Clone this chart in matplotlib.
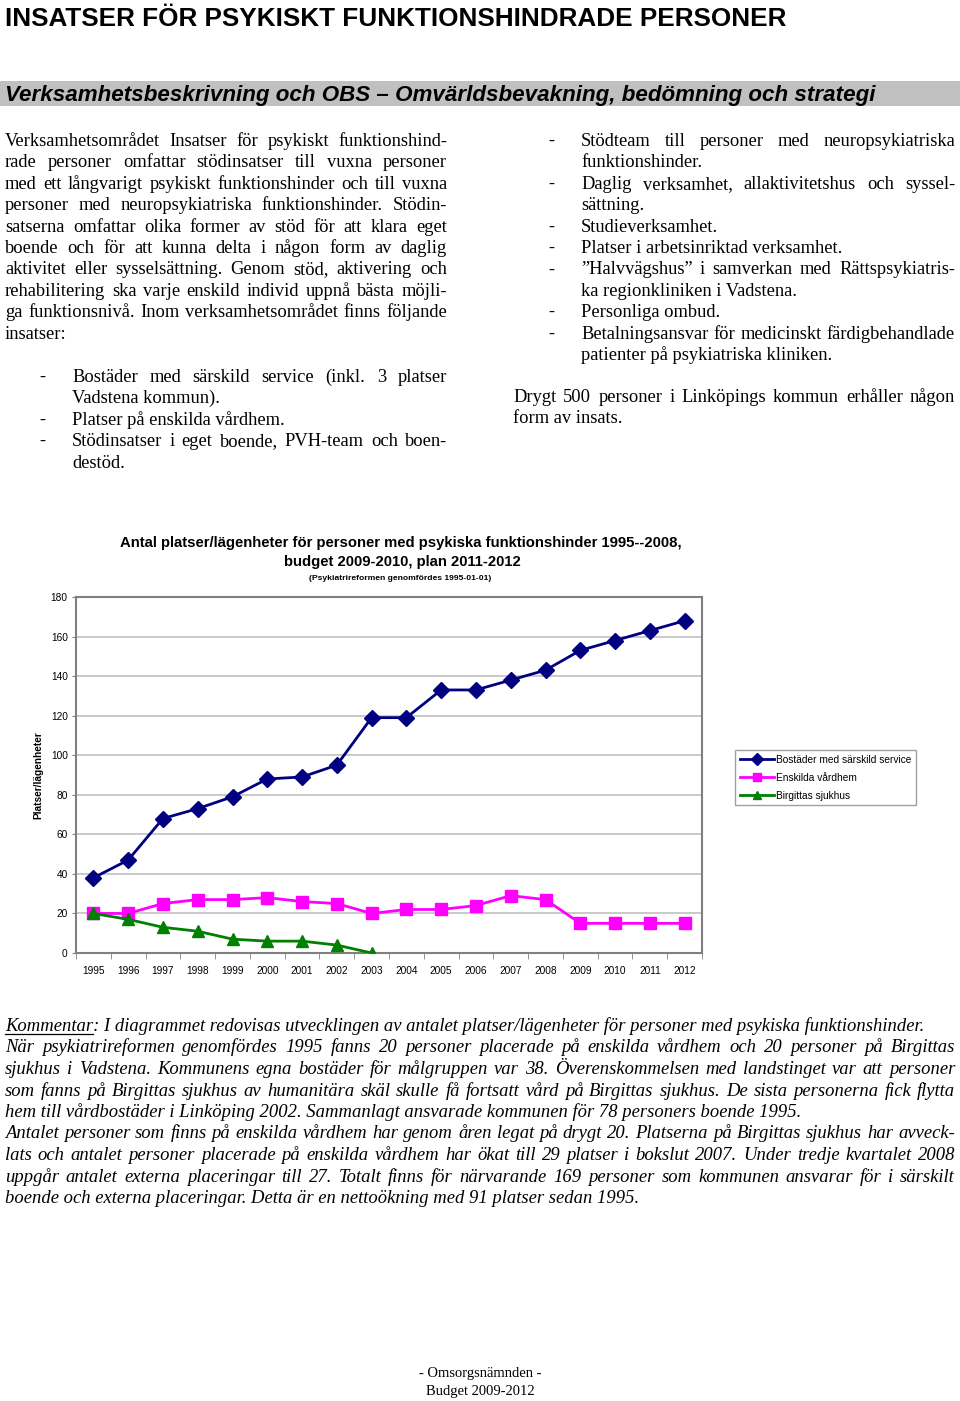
import matplotlib
matplotlib.use("Agg")
import matplotlib.pyplot as plt
from matplotlib.lines import Line2D
import numpy as np

# ---------------- data ----------------
years = ["1995", "1996", "1997", "1998", "1999", "2000", "2001", "2002", "2003",
         "2004", "2005", "2006", "2007", "2008", "2009", "2010", "2011", "2012"]
bostader = [38, 47, 68, 73, 79, 88, 89, 95, 119, 119, 133, 133, 138, 143, 153, 158, 163, 168]
enskilda = [20, 20, 25, 27, 27, 28, 26, 25, 20, 22, 22, 24, 29, 27, 15, 15, 15, 15]
birgittas = [20, 17, 13, 11, 7, 6, 6, 4, 0]
series_names = ["Bostäder med särskild service", "Enskilda vårdhem", "Birgittas sjukhus"]
yticks = [0, 20, 40, 60, 80, 100, 120, 140, 160, 180]

page_title = "INSATSER FÖR PSYKISKT FUNKTIONSHINDRADE PERSONER"
section_title = "Verksamhetsbeskrivning och OBS – Omvärldsbevakning, bedömning och strategi"
chart_title1 = "Antal platser/lägenheter för personer med psykiska funktionshinder 1995--2008,"
chart_title2 = "budget 2009-2010, plan 2011-2012"
chart_sub = "(Psykiatrireformen genomfördes 1995-01-01)"
ylabel = "Platser/lägenheter"

left_par = [
    ("Verksamhetsområdet Insatser för psykiskt funktionshind-", True),
    ("rade personer omfattar stödinsatser till vuxna personer", True),
    ("med ett långvarigt psykiskt funktionshinder och till vuxna", True),
    ("personer med neuropsykiatriska funktionshinder. Stödin-", True),
    ("satserna omfattar olika former av stöd för att klara eget", True),
    ("boende och för att kunna delta i någon form av daglig", True),
    ("aktivitet eller sysselsättning. Genom stöd, aktivering och", True),
    ("rehabilitering ska varje enskild individ uppnå bästa möjli-", True),
    ("ga funktionsnivå. Inom verksamhetsområdet finns följande", True),
    ("insatser:", False),
]
left_bullets = [
    ("Bostäder med särskild service (inkl. 3 platser", True, True),
    ("Vadstena kommun).", False, False),
    ("Platser på enskilda vårdhem.", False, True),
    ("Stödinsatser i eget boende, PVH-team och boen-", True, True),
    ("destöd.", False, False),
]
right_bullets = [
    ("Stödteam till personer med neuropsykiatriska", True, True),
    ("funktionshinder.", False, False),
    ("Daglig verksamhet, allaktivitetshus och syssel-", True, True),
    ("sättning.", False, False),
    ("Studieverksamhet.", False, True),
    ("Platser i arbetsinriktad verksamhet.", False, True),
    ("\u201dHalvvägshus\u201d i samverkan med Rättspsykiatris-", True, True),
    ("ka regionkliniken i Vadstena.", False, False),
    ("Personliga ombud.", False, True),
    ("Betalningsansvar för medicinskt färdigbehandlade", True, True),
    ("patienter på psykiatriska kliniken.", False, False),
]
right_par = [
    ("Drygt 500 personer i Linköpings kommun erhåller någon", True),
    ("form av insats.", False),
]
comment = [
    ("Kommentar: I diagrammet redovisas utvecklingen av antalet platser/lägenheter för personer med psykiska funktionshinder.", False),
    ("När psykiatrireformen genomfördes 1995 fanns 20 personer placerade på enskilda vårdhem och 20 personer på Birgittas", True),
    ("sjukhus i Vadstena. Kommunens egna bostäder för målgruppen var 38. Överenskommelsen med landstinget var att personer", True),
    ("som fanns på Birgittas sjukhus av humanitära skäl skulle få fortsatt vård på Birgittas sjukhus. De sista personerna fick flytta", True),
    ("hem till vårdbostäder i Linköping 2002. Sammanlagt ansvarade kommunen för 78 personers boende 1995.", False),
    ("Antalet personer som finns på enskilda vårdhem har genom åren legat på drygt 20. Platserna på Birgittas sjukhus har avveck-", True),
    ("lats och antalet personer placerade på enskilda vårdhem har ökat till 29 platser i bokslut 2007. Under tredje kvartalet 2008", True),
    ("uppgår antalet externa placeringar till 27. Totalt finns för närvarande 169 personer som kommunen ansvarar för i särskilt", True),
    ("boende och externa placeringar. Detta är en nettoökning med 91 platser sedan 1995.", False),
]
footer = ["- Omsorgsnämnden -", "Budget 2009-2012"]

# ---------------- page setup ----------------
W, H = 960, 1401
fig = plt.figure(figsize=(W / 100, H / 100), dpi=100)
fig.patch.set_facecolor("white")
renderer = fig.canvas.get_renderer()

SERIF = "Liberation Serif"
SANS = "Liberation Sans"


def fx(px):
    return px / W


def fy(py):
    return 1 - py / H


def measure(s, **kw):
    t = fig.text(0, 0, s, **kw)
    w = t.get_window_extent(renderer).width
    t.remove()
    return w


def fit_size(s, width, **kw):
    w = measure(s, fontsize=10, **kw)
    return 10 * width / w


def draw_line(x0, x1, yb, s, justify, **kw):
    if not justify:
        fig.text(fx(x0), fy(yb), s, ha="left", va="baseline", **kw)
        return
    words = s.split(" ")
    widths = [measure(w, **kw) for w in words]
    gap = (x1 - x0 - sum(widths)) / max(len(words) - 1, 1)
    x = x0
    for w, wd in zip(words, widths):
        fig.text(fx(x), fy(yb), w, ha="left", va="baseline", **kw)
        x += wd + gap


# page title
ts = fit_size(page_title, 780, family=SANS, fontweight="bold")
fig.text(fx(5), fy(26), page_title, family=SANS, fontweight="bold", fontsize=ts,
         ha="left", va="baseline")

# grey section bar
fig.patches.append(plt.Rectangle((0, fy(106)), 1.0, (106 - 81) / H,
                                 transform=fig.transFigure, facecolor="#c0c0c0",
                                 edgecolor="none", zorder=0))
ss = fit_size(section_title, 872, family=SANS, fontweight="bold", fontstyle="italic")
fig.text(fx(5), fy(101), section_title, family=SANS, fontweight="bold",
         fontstyle="italic", fontsize=ss, ha="left", va="baseline")

# body text
bs = fit_size("Betalningsansvar för medicinskt färdigbehandlade", 374, family=SERIF)
body = dict(family=SERIF, fontsize=bs, color="black")
lh = 21.4
for i, (s, j) in enumerate(left_par):
    draw_line(5, 447, 146 + i * lh, s, j, **body)
for i, (s, j, dash) in enumerate(left_bullets):
    yb = 382 + i * lh
    if dash:
        fig.text(fx(39), fy(yb), "-", ha="left", va="baseline", **body)
    draw_line(72, 447, yb, s, j, **body)
for i, (s, j, dash) in enumerate(right_bullets):
    yb = 146 + i * lh
    if dash:
        fig.text(fx(548), fy(yb), "-", ha="left", va="baseline", **body)
    draw_line(581, 955, yb, s, j, **body)
for i, (s, j) in enumerate(right_par):
    draw_line(513, 955, 402 + i * lh, s, j, **body)

# comment (italic)
cs = min(fit_size(comment[0][0], 920, family=SERIF, fontstyle="italic"),
         fit_size(comment[3][0], 945, family=SERIF, fontstyle="italic"))
ck = dict(family=SERIF, fontstyle="italic", fontsize=cs, color="black")
for i, (s, j) in enumerate(comment):
    yb = 1031 + i * 21.5
    draw_line(5, 955, yb, s, j, **ck)
    if i == 0:
        uw = measure("Kommentar", **ck)
        fig.add_artist(Line2D([fx(5), fx(5 + uw)], [fy(yb + 2.5), fy(yb + 2.5)],
                              transform=fig.transFigure, color="black", lw=0.9))

# footer
fs = fit_size(footer[0], 123, family=SERIF)
fig.text(fx(480), fy(1377), footer[0], family=SERIF, fontsize=fs, ha="center", va="baseline")
fig.text(fx(480), fy(1395), footer[1], family=SERIF, fontsize=fs, ha="center", va="baseline")

# ---------------- chart ----------------
ax = fig.add_axes([fx(76), fy(953), fx(702) - fx(76), (953 - 597) / H])
x = np.arange(len(years))
ax.plot(x, bostader, color="#000080", lw=2, marker="D", markersize=8,
        markerfacecolor="#000080", markeredgecolor="#000080", label=series_names[0], zorder=3)
ax.plot(x, enskilda, color="#ff00ff", lw=2, marker="s", markersize=8,
        markerfacecolor="#ff00ff", markeredgecolor="#ff00ff", label=series_names[1], zorder=3)
ax.plot(x[:len(birgittas)], birgittas, color="#008000", lw=2, marker="^", markersize=8,
        markerfacecolor="#008000", markeredgecolor="#008000", label=series_names[2], zorder=3)

ax.set_xlim(-0.5, len(years) - 0.5)
ax.set_ylim(0, 180)
ax.set_xticks(x)
ax.set_xticklabels(years, family=SANS, fontsize=7.3)
ax.set_yticks(yticks)
ax.set_yticklabels([str(v) for v in yticks], family=SANS, fontsize=7.3)
ax.set_xticks(np.arange(-0.5, len(years), 1), minor=True)
ax.tick_params(axis="x", which="major", length=0, pad=9)
ax.tick_params(axis="x", which="minor", length=4, color="#808080", direction="out")
ax.tick_params(axis="y", which="major", length=3, color="#808080", pad=3)
ax.grid(axis="y", color="#c0c0c0", lw=1.2, zorder=0)
ax.set_axisbelow(True)
for sp in ax.spines.values():
    sp.set_color("#808080")
    sp.set_linewidth(1.5)
ax.set_ylabel(ylabel, family=SANS, fontweight="bold", fontsize=7.3, labelpad=5)

cts = fit_size(chart_title1, 566, family=SANS, fontweight="bold")
fig.text(fx(401), fy(547), chart_title1, family=SANS, fontweight="bold", fontsize=cts,
         ha="center", va="baseline")
fig.text(fx(402), fy(566), chart_title2, family=SANS, fontweight="bold", fontsize=cts,
         ha="center", va="baseline")
sts = fit_size(chart_sub, 180, family=SANS, fontweight="bold")
fig.text(fx(400), fy(580), chart_sub, family=SANS, fontweight="bold", fontsize=sts,
         ha="center", va="baseline")

leg = ax.legend(loc="upper left", bbox_to_anchor=(fx(735), fy(750)),
                bbox_transform=fig.transFigure, prop=dict(family=SANS, size=7.3),
                frameon=True, fancybox=False, edgecolor="#a0a0a0", framealpha=1,
                handlelength=3.4, handletextpad=0.2, labelspacing=0.8,
                borderpad=0.45, markerscale=0.75, borderaxespad=0)
leg.get_frame().set_linewidth(1.0)

fig.savefig("out.png", dpi=100, facecolor="white")
